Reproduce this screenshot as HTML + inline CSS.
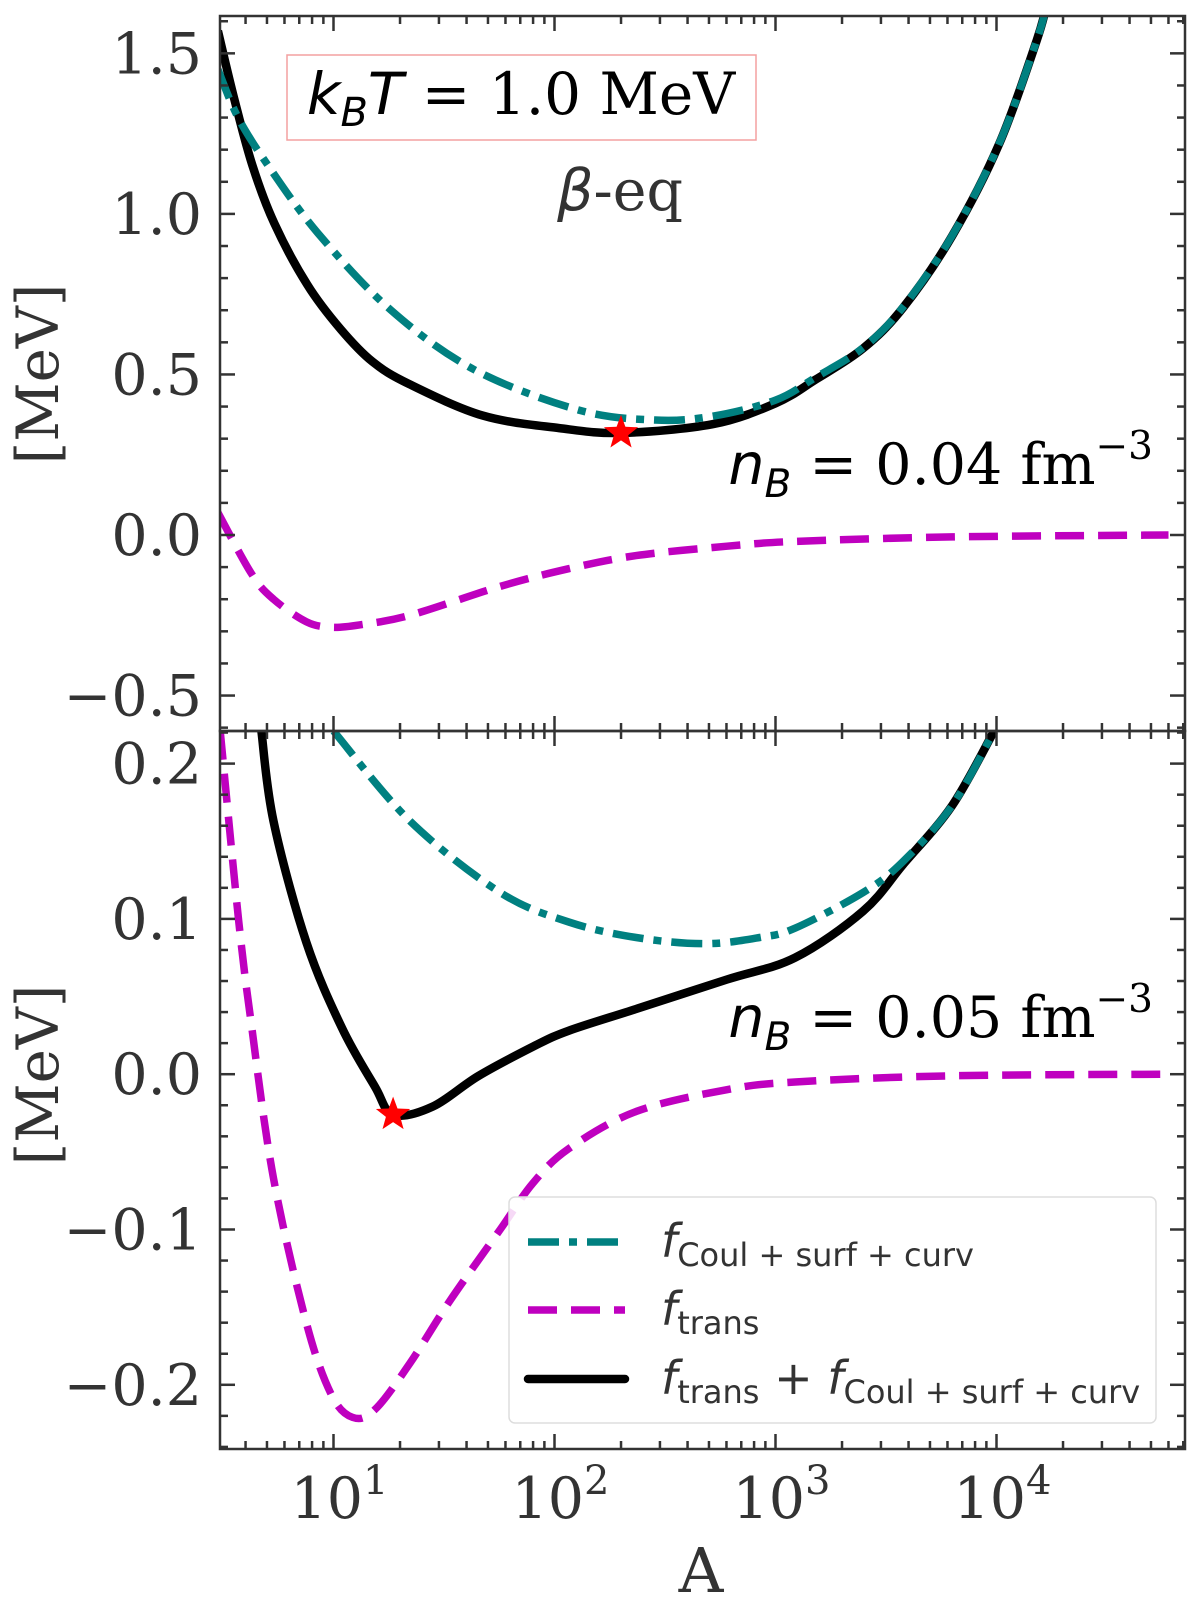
<!DOCTYPE html>
<html><head><meta charset="utf-8"><style>
html,body{margin:0;padding:0;background:#fff;}
svg{display:block;}
text{fill:#333;}
</style></head><body>
<svg id="chart" width="1200" height="1609" viewBox="0 0 1200 1609" xmlns="http://www.w3.org/2000/svg">
<defs>
<clipPath id="clipTop"><rect x="220" y="16" width="965" height="715"/></clipPath>
<clipPath id="clipBot"><rect x="220" y="731" width="965" height="718"/></clipPath>
</defs>
<g id="marks"></g>
<g id="axes"></g>
<rect x="287" y="55" width="469" height="85" fill="#fff" stroke="#f4a0a0" stroke-width="1.5"/>
<text x="521" y="114" text-anchor="middle" font-family="DejaVu Serif, serif" font-size="58" style="fill:#000"><tspan font-style="italic" font-family="DejaVu Sans, sans-serif">k</tspan><tspan font-style="italic" font-family="DejaVu Sans, sans-serif" font-size="40" dy="12">B</tspan><tspan font-style="italic" font-family="DejaVu Sans, sans-serif" dy="-12">T</tspan> = 1.0 MeV</text>
<text x="620" y="210" text-anchor="middle" font-family="DejaVu Serif, serif" font-size="57"><tspan font-style="italic" font-family="DejaVu Sans, sans-serif">β</tspan>-eq</text>
<text x="1153" y="484" text-anchor="end" font-family="DejaVu Serif, serif" font-size="57" style="fill:#000"><tspan font-style="italic" font-family="DejaVu Sans, sans-serif">n</tspan><tspan font-style="italic" font-family="DejaVu Sans, sans-serif" font-size="39" dy="13">B</tspan><tspan dy="-13"> = 0.04 fm</tspan><tspan font-size="39" dy="-25">−3</tspan></text>
<text x="1153" y="1037" text-anchor="end" font-family="DejaVu Serif, serif" font-size="57" style="fill:#000"><tspan font-style="italic" font-family="DejaVu Sans, sans-serif">n</tspan><tspan font-style="italic" font-family="DejaVu Sans, sans-serif" font-size="39" dy="13">B</tspan><tspan dy="-13"> = 0.05 fm</tspan><tspan font-size="39" dy="-25">−3</tspan></text>
<text transform="translate(58,374) rotate(-90)" text-anchor="middle" font-family="DejaVu Serif, serif" font-size="58">[MeV]</text>
<text transform="translate(58,1075) rotate(-90)" text-anchor="middle" font-family="DejaVu Serif, serif" font-size="58">[MeV]</text>
<text x="701" y="1592" text-anchor="middle" font-family="DejaVu Serif, serif" font-size="62">A</text>
<g>
<rect x="509" y="1197" width="647" height="226" rx="6" fill="#fff" fill-opacity="0.85" stroke="#ddd" stroke-width="1.5"/>
<line x1="528" y1="1242" x2="625" y2="1242" stroke="#008080" stroke-width="7.5" stroke-dasharray="31,10,8,10"/>
<text x="661" y="1257" font-family="DejaVu Sans, sans-serif" font-size="46"><tspan font-style="italic">f</tspan><tspan font-size="32" dy="9">Coul + surf + curv</tspan></text>
<line x1="528" y1="1310" x2="625" y2="1310" stroke="#bf00bf" stroke-width="7.5" stroke-dasharray="29,14"/>
<text x="661" y="1325" font-family="DejaVu Sans, sans-serif" font-size="46"><tspan font-style="italic">f</tspan><tspan font-size="32" dy="9">trans</tspan></text>
<line x1="528" y1="1379" x2="625" y2="1379" stroke="#000" stroke-width="8.5" stroke-linecap="round"/>
<text x="661" y="1394" font-family="DejaVu Sans, sans-serif" font-size="46"><tspan font-style="italic">f</tspan><tspan font-size="32" dy="9">trans</tspan><tspan dy="-9"> + </tspan><tspan font-style="italic">f</tspan><tspan font-size="32" dy="9">Coul + surf + curv</tspan></text>
</g>
</svg>
<script>
// ---- data ----
const topBlackA = [3.0,3.55,4.3,5.4,7.6,10.8,15,22,47.4,105,200,519,1000,1510,2490,3780,6310,10300,15200,17000];
const topBlackV = [1.57,1.36,1.15,0.97,0.78,0.64,0.54,0.47,0.372,0.333,0.318,0.345,0.41,0.483,0.581,0.708,0.932,1.219,1.54,1.66];
const topTealA = [3.0,3.7,5.1,8.5,18.2,43.6,129,285,519,1000,1510,2490,3780,6310,10300,15200,17000];
const topTealV = [1.45,1.30,1.147,0.94,0.70,0.514,0.389,0.358,0.37,0.42,0.49,0.583,0.71,0.933,1.22,1.54,1.66];
const topMagA = [3.0,4.25,5.35,7.53,9.75,13.1,22.2,56.8,116,234,603,1225,6300,60000];
const topMagV = [0.07,-0.12,-0.2,-0.27,-0.287,-0.28,-0.25,-0.16,-0.105,-0.064,-0.035,-0.02,-0.006,0];
const botBlackA = [4.72,5.35,7.53,10.9,15.4,18.6,28,45.4,80.7,116,234,603,1225,2490,3780,6300,9750];
const botBlackV = [0.221,0.163,0.085,0.030,-0.008,-0.026,-0.021,-0.001,0.018,0.028,0.042,0.061,0.075,0.105,0.135,0.173,0.221];
const botTealA = [10,22.2,56.8,116,234,479,847,1225,2490,3780,6300,9750];
const botTealV = [0.221,0.163,0.117,0.098,0.088,0.084,0.088,0.094,0.117,0.137,0.173,0.221];
const botMagA = [3.07,3.73,4.25,5.35,7.53,9.75,12.2,15.4,22.2,33.6,56.8,80,116,234,603,1225,6300,60000];
const botMagV = [0.221,0.098,0.032,-0.067,-0.16,-0.206,-0.221,-0.216,-0.186,-0.146,-0.10,-0.07,-0.048,-0.024,-0.01,-0.005,-0.001,0];
const topStar = [200, 0.318];
const botStar = [18.6, -0.026];
const topYTicks = [-0.5,0.0,0.5,1.0,1.5];
const botYTicks = [-0.2,-0.1,0.0,0.1,0.2];
const xTickExps = [1,2,3,4];

// ---- scales ----
const X0=220, X1=1185;
function xs(a){ return 333.5 + 221*(Math.log10(a)-1); }
function ysTop(v){ return 535 - 321.1*v; }
function ysBot(v){ return 1074.2 - 1553*v; }
const NS='http://www.w3.org/2000/svg';
const marks=document.getElementById('marks'), axes=document.getElementById('axes');
function mk(tag, attrs, parent){ const e=document.createElementNS(NS,tag); for(const k in attrs) e.setAttribute(k,attrs[k]); parent.appendChild(e); return e; }
function pathFrom(A,V,ys){
  const p=A.map((a,i)=>[xs(a),ys(V[i])]);
  let d='M'+p[0][0].toFixed(1)+','+p[0][1].toFixed(1);
  for(let i=0;i<p.length-1;i++){
    const p0=p[i-1]||p[i], p1=p[i], p2=p[i+1], p3=p[i+2]||p2;
    const c1=[p1[0]+(p2[0]-p0[0])/6, p1[1]+(p2[1]-p0[1])/6];
    const c2=[p2[0]-(p3[0]-p1[0])/6, p2[1]-(p3[1]-p1[1])/6];
    d+=' C'+c1.map(n=>n.toFixed(1)).join(',')+' '+c2.map(n=>n.toFixed(1)).join(',')+' '+p2.map(n=>n.toFixed(1)).join(',');
  }
  return d;
}
function series(A,V,ys,clip,style,name){
  const el=mk('path',Object.assign({d:pathFrom(A,V,ys),fill:'none','clip-path':'url(#'+clip+')'},style),marks);
  
  
}
const teal={stroke:'#008080','stroke-width':7.5,'stroke-dasharray':'31,10,8,10'};
const mag={stroke:'#bf00bf','stroke-width':7.5,'stroke-dasharray':'29,14'};
const blk={stroke:'#000','stroke-width':8.5};
series(topMagA,topMagV,ysTop,'clipTop',mag,'top-trans-curve');
series(topBlackA,topBlackV,ysTop,'clipTop',blk,'top-total-curve');
series(topTealA,topTealV,ysTop,'clipTop',teal,'top-coul-curve');
series(botMagA,botMagV,ysBot,'clipBot',mag,'bottom-trans-curve');
series(botBlackA,botBlackV,ysBot,'clipBot',blk,'bottom-total-curve');
series(botTealA,botTealV,ysBot,'clipBot',teal,'bottom-coul-curve');
function star(cx,cy,name){
  let pts=[];
  for(let i=0;i<10;i++){ const r=i%2?7.5:18, t=-Math.PI/2+i*Math.PI/5; pts.push((cx+r*Math.cos(t)).toFixed(1)+','+(cy+r*Math.sin(t)).toFixed(1)); }
  const s=mk('polygon',{points:pts.join(' '),fill:'#ff0000'},marks);
  
  
}
star(xs(topStar[0]),ysTop(topStar[1]),'top-minimum-star');
star(xs(botStar[0]),ysBot(botStar[1]),'bottom-minimum-star');

// ---- axes ----
function line(x1,y1,x2,y2,w){ mk('line',{x1,y1,x2,y2,stroke:'#333','stroke-width':w||2.5},axes); }
[[16,731],[731,1449]].forEach(([t,b])=>{
  mk('rect',{x:X0,y:t,width:X1-X0,height:b-t,fill:'none',stroke:'#333','stroke-width':2.5},axes);
  for(let e=0;e<=4;e++){
    for(let m=1;m<10;m++){
      const x=xs(m*Math.pow(10,e)); if(x<X0||x>X1) continue;
      const L=m===1?15:8;
      line(x,t,x,t+L); line(x,b,x,b-L);
    }
  }
});
function yt(ticks,ys,minStep,t,b){
  const lo=Math.min(...ticks)-2*minStep*5, hi=Math.max(...ticks)+2*minStep*5;
  for(let v=lo; v<=hi+1e-9; v+=minStep){
    const y=ys(v); if(y<t+1||y>b-1) continue;
    const major=ticks.some(tk=>Math.abs(tk-v)<1e-6);
    const L=major?15:8;
    line(X0,y,X0+L,y); line(X1,y,X1-L,y);
  }
  ticks.forEach(v=>{
    const y=ys(v);
    const tx=mk('text',{x:202,y:y+20,'text-anchor':'end','font-family':'DejaVu Serif, serif','font-size':57},axes);
    tx.textContent=(v<0?'−':'')+Math.abs(v).toFixed(1);
    
    
  });
}
yt(topYTicks,ysTop,0.1,16,731);
yt(botYTicks,ysBot,0.02,731,1449);
xTickExps.forEach(e=>{
  const x=xs(Math.pow(10,e));
  const tx=mk('text',{x:x+6,y:1518,'text-anchor':'middle','font-family':'DejaVu Serif, serif','font-size':57},axes);
  
  
  const a=document.createElementNS(NS,'tspan'); a.textContent='10'; tx.appendChild(a);
  const s=document.createElementNS(NS,'tspan'); s.setAttribute('dy','-24'); s.setAttribute('font-size','40'); s.textContent=String(e); tx.appendChild(s);
});
</script>
</body></html>
